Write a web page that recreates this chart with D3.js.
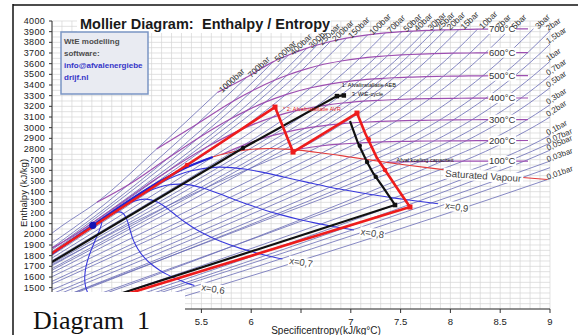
<!DOCTYPE html>
<html>
<head>
<meta charset="utf-8">
<script src="https://cdn.jsdelivr.net/npm/d3@7"></script>
<style>
  body { margin: 0; background: #fff; }
  svg { display: block; font-family: "Liberation Sans", Arial, sans-serif; }
</style>
</head>
<body>
<svg id="chart" width="578" height="335"></svg>
<script>
// ---- steam data (s in kJ/kgK, h in kJ/kg) ----

// isobars drawn, bar
var pressures = [1000, 700, 500, 400, 300, 250, 200, 150, 100, 70, 50, 40, 30, 25, 20, 15, 10, 7, 5, 3, 2, 1.5, 1, 0.7, 0.5, 0.3, 0.2, 0.1, 0.07, 0.05, 0.03, 0.02, 0.01];
var unlabeled = [0.02];

// saturation: [p, s liquid, h liquid, s vapour, h vapour]
var saturation = [
  [200, 4.015, 1826, 4.928, 2410], [150, 3.685, 1611, 5.311, 2610], [100, 3.360, 1408, 5.614, 2725],
  [70, 3.122, 1267, 5.813, 2772], [50, 2.921, 1155, 5.973, 2794], [40, 2.797, 1087, 6.070, 2801],
  [30, 2.646, 1008, 6.186, 2804], [25, 2.554, 962, 6.256, 2803], [20, 2.447, 909, 6.340, 2799],
  [15, 2.315, 845, 6.444, 2792], [10, 2.138, 763, 6.585, 2778], [7, 1.992, 697, 6.708, 2763],
  [5, 1.860, 640, 6.822, 2749], [3, 1.672, 562, 6.992, 2725], [2, 1.530, 505, 7.127, 2707],
  [1.5, 1.434, 467, 7.223, 2693], [1, 1.303, 418, 7.359, 2675], [0.7, 1.192, 377, 7.479, 2660],
  [0.5, 1.091, 341, 7.593, 2646], [0.3, 0.944, 289, 7.767, 2625], [0.2, 0.832, 251, 7.907, 2609],
  [0.1, 0.649, 192, 8.149, 2584], [0.07, 0.559, 163, 8.274, 2572], [0.05, 0.476, 138, 8.394, 2561],
  [0.03, 0.354, 101, 8.576, 2545], [0.02, 0.261, 73, 8.723, 2533], [0.01, 0.106, 29, 8.975, 2514]
];
var critical = [4.41, 2084];

// superheated / supercritical points per temperature: [p, s, h]
var t100 = [[0.7, 7.53, 2680], [0.5, 7.695, 2682], [0.3, 7.917, 2685], [0.2, 8.126, 2686], [0.1, 8.448, 2687],
  [0.07, 8.588, 2687], [0.05, 8.744, 2687], [0.03, 9.004, 2688], [0.02, 9.19, 2688], [0.01, 9.51, 2688]];
var t200 = [[15, 6.455, 2796], [10, 6.694, 2828], [7, 6.886, 2845], [5, 7.061, 2855], [3, 7.312, 2866],
  [2, 7.507, 2871], [1.5, 7.645, 2873], [1, 7.834, 2875], [0.7, 8.0, 2876], [0.5, 8.158, 2877],
  [0.3, 8.39, 2879], [0.2, 8.577, 2879], [0.1, 8.904, 2880], [0.07, 9.061, 2880], [0.05, 9.217, 2880]];
var t300 = [[70, 5.930, 2839], [50, 6.208, 2925], [40, 6.362, 2961], [30, 6.539, 2994], [25, 6.646, 3009],
  [20, 6.767, 3024], [15, 6.918, 3038], [10, 7.123, 3051], [7, 7.299, 3059], [5, 7.460, 3064],
  [3, 7.703, 3069], [2, 7.894, 3072], [1.5, 8.030, 3073], [1, 8.216, 3074], [0.7, 8.38, 3075],
  [0.5, 8.54, 3075], [0.3, 8.772, 3076], [0.2, 8.959, 3076], [0.1, 9.28, 3076]];
var t350 = [[250, 3.70, 1625], [150, 5.442, 2692], [100, 5.944, 2924]];
var t375 = [[400, 3.829, 1743], [300, 3.931, 1792], [250, 4.032, 1848]];
var t400 = [[1000, 3.80, 1870], [700, 3.89, 1850], [500, 4.003, 1875], [400, 4.114, 1931], [300, 4.473, 2151],
  [250, 5.142, 2580], [200, 5.554, 2818], [150, 5.881, 2975], [100, 6.212, 3097], [70, 6.450, 3159],
  [50, 6.647, 3196], [40, 6.769, 3214], [30, 6.921, 3231], [25, 7.015, 3240], [20, 7.127, 3248],
  [15, 7.269, 3256], [10, 7.465, 3264], [7, 7.635, 3269], [5, 7.794, 3272], [3, 8.033, 3275],
  [2, 8.222, 3277], [1.5, 8.357, 3277], [1, 8.544, 3278], [0.7, 8.71, 3278], [0.5, 8.864, 3278],
  [0.3, 9.10, 3279], [0.2, 9.287, 3279]];
var t425 = [[400, 4.503, 2198], [300, 5.150, 2614], [250, 5.472, 2806]];
var t450 = [[1000, 4.10, 2080], [700, 4.32, 2130], [500, 4.59, 2284], [400, 4.946, 2513], [300, 5.442, 2821],
  [250, 5.674, 2950], [200, 5.904, 3061], [150, 6.142, 3157]];
var t500 = [[1000, 4.45, 2300], [700, 4.76, 2460], [500, 5.173, 2720], [400, 5.470, 2903], [300, 5.790, 3081],
  [250, 5.959, 3162], [200, 6.141, 3239], [150, 6.348, 3310], [100, 6.597, 3374], [70, 6.800, 3411],
  [50, 6.976, 3434], [40, 7.091, 3446], [30, 7.234, 3457], [25, 7.323, 3462], [20, 7.432, 3468],
  [15, 7.570, 3473], [10, 7.762, 3479], [7, 7.930, 3482], [5, 8.088, 3484], [3, 8.325, 3486],
  [2, 8.513, 3487], [1.5, 8.647, 3487], [1, 8.834, 3488], [0.7, 8.999, 3488], [0.5, 9.154, 3488]];
var t600 = [[1000, 5.05, 2800], [700, 5.45, 3030], [500, 5.818, 3248], [400, 6.011, 3346], [300, 6.233, 3444],
  [250, 6.360, 3491], [200, 6.505, 3537], [150, 6.679, 3583], [100, 6.903, 3625], [70, 7.090, 3650],
  [50, 7.259, 3666], [40, 7.369, 3674], [30, 7.509, 3682], [25, 7.595, 3686], [20, 7.702, 3690],
  [15, 7.839, 3694], [10, 8.029, 3698], [7, 8.197, 3700], [5, 8.353, 3702], [3, 8.589, 3703],
  [2, 8.777, 3704], [1.5, 8.911, 3704], [1, 9.098, 3705], [0.7, 9.263, 3705]];
var t700 = [[1000, 5.66, 3330], [700, 5.95, 3470], [500, 6.219, 3617], [400, 6.375, 3681], [300, 6.561, 3746],
  [250, 6.662, 3775], [200, 6.796, 3808], [150, 6.957, 3839], [100, 7.170, 3870], [70, 7.347, 3888],
  [50, 7.512, 3900], [40, 7.620, 3906], [30, 7.757, 3912], [25, 7.843, 3915], [20, 7.949, 3917],
  [15, 8.085, 3920], [10, 8.273, 3924], [7, 8.442, 3925], [5, 8.598, 3926], [3, 8.834, 3927],
  [2, 9.02, 3927], [1.5, 9.154, 3927]];
var tempColumns = [t100, t200, t300, t350, t375, t400, t425, t450, t500, t600, t700];

// isotherms with labels
var isoTemps = [100, 200, 300, 400, 500, 600, 700];
var isoColumns = [t100, t200, t300, t400, t500, t600, t700];
var isoSatStart = [[7.359, 2675], [6.431, 2793], [5.705, 2749], null, null, null, null];

// lines of constant steam quality x
var q50 = [[4.41, 2084], [4.472, 2118], [4.498, 2110], [4.487, 2066], [4.447, 1974], [4.394, 1854], [4.362, 1770],
  [4.341, 1695], [4.329, 1606], [4.331, 1546], [4.342, 1493], [4.370, 1430], [4.399, 1388], [4.435, 1349], [4.513, 1290]];
var q60 = [[4.41, 2084], [4.563, 2176], [4.661, 2210], [4.712, 2198], [4.752, 2138], [4.783, 2043], [4.806, 1972],
  [4.837, 1905], [4.888, 1826], [4.937, 1772], [4.992, 1724], [5.077, 1666], [5.149, 1627], [5.227, 1592], [5.338, 1549], [5.43, 1520]];
var q70 = [[4.41, 2084], [4.654, 2235], [4.823, 2310], [4.938, 2330], [5.057, 2302], [5.172, 2232], [5.251, 2173],
  [5.333, 2116], [5.448, 2046], [5.542, 1998], [5.642, 1954], [5.785, 1902], [5.899, 1866], [6.019, 1834], [6.184, 1795], [6.314, 1769]];
var q80 = [[4.41, 2084], [4.745, 2293], [4.986, 2410], [5.163, 2462], [5.363, 2466], [5.561, 2421], [5.696, 2375],
  [5.830, 2327], [6.008, 2267], [6.148, 2224], [6.293, 2185], [6.492, 2137], [6.649, 2105], [6.810, 2076], [7.031, 2041]];
var q90 = [[4.41, 2084], [4.837, 2352], [5.148, 2510], [5.389, 2593], [5.668, 2630], [5.951, 2610], [6.140, 2576],
  [6.326, 2538], [6.567, 2487], [6.753, 2449], [6.943, 2415], [7.200, 2373], [7.399, 2345], [7.602, 2319], [7.877, 2287]];
var qualityLines = [q50, q60, q70, q80, q90];
var qualityNames = [null, "x=0,6", "x=0,7", "x=0,8", "x=0,9"];

// saturation boundary near the critical point
var satBoundary = [[3.685, 1611], [4.015, 1826], [4.41, 2084], [4.928, 2410], [5.311, 2610], [5.614, 2725]];

// the two plant cycles
var redCycle = [[3.7, 1640], [5.355, 2650], [6.239, 3193], [6.42, 2771], [7.062, 3137], [7.143, 2950],
  [7.263, 2715], [7.343, 2603], [7.464, 2434], [7.594, 2256], [4.26, 1300]];
var redSquares = [[6.239, 3193], [6.42, 2771], [7.062, 3137], [7.594, 2256]];
var redDots = [[5.355, 2650], [7.18, 2890], [7.343, 2603]];
var blackHeat = [[3.7, 1573], [5.918, 2809], [6.861, 3296], [6.93, 3302]];
var blackExpand = [[6.992, 3062], [7.072, 2856], [7.163, 2678], [7.223, 2575], [7.323, 2443], [7.444, 2275], [4.21, 1300]];
var blackSquares = [[6.861, 3296], [6.93, 3302], [7.444, 2275]];
var blackDots = [[5.918, 2809], [7.09, 2830], [7.163, 2678], [7.25, 2540]];

var notes = [
  ["1: Afvalinstallatie AEB", 6.91, 3385, "#111"],
  ["3: WtE-cycle", 7.01, 3300, "#111"],
  ["* 2: Afvalinstallatie AVR", 6.32, 3160, "#e01b1b"],
  ["Afval koeling capaciteit", 7.46, 2680, "#111"]
];

var xTicks = [4, 4.5, 5, 5.5, 6, 6.5, 7, 7.5, 8, 8.5, 9];
var xTickLabels = [5.5, 6, 7, 7.5, 8, 8.5, 9];
var yTicks = d3.range(1300, 4001, 100);
var yTickLabels = d3.range(1500, 4001, 100);

// ---- layout ----
var W = 578, H = 335;
var plot = { left: 52, right: 550, top: 21, bottom: 309 };
var x = d3.scaleLinear().domain([4, 9]).range([plot.left, plot.right]);
var y = d3.scaleLinear().domain([1300, 4000]).range([plot.bottom, plot.top]);

var svg = d3.select("#chart");
var defs = svg.append("defs");
defs.append("clipPath").attr("id", "plotClip").append("rect")
  .attr("x", plot.left).attr("y", plot.top)
  .attr("width", plot.right - plot.left).attr("height", plot.bottom - plot.top);
defs.append("clipPath").attr("id", "isoClip").append("rect")
  .attr("x", plot.left).attr("y", plot.top)
  .attr("width", x(8.78) - plot.left).attr("height", plot.bottom - plot.top);

svg.append("rect").attr("width", W).attr("height", H).attr("fill", "#fff");

// grid
var grid = svg.append("g").attr("stroke", "#d6d6d6").attr("stroke-width", 0.7);
grid.selectAll("line.v").data(d3.range(40, 91).map(function(d) { return d / 10; }))
  .enter().append("line")
  .attr("x1", function(d) { return x(d); }).attr("x2", function(d) { return x(d); })
  .attr("y1", plot.top).attr("y2", plot.bottom);
grid.selectAll("line.h").data(d3.range(1300, 4001, 50))
  .enter().append("line")
  .attr("y1", function(d) { return y(d); }).attr("y2", function(d) { return y(d); })
  .attr("x1", plot.left).attr("x2", plot.right);

var lineMono = d3.line().x(function(d) { return x(d[0]); }).y(function(d) { return y(d[1]); }).curve(d3.curveMonotoneX);
var lineCR = d3.line().x(function(d) { return x(d[0]); }).y(function(d) { return y(d[1]); }).curve(d3.curveCatmullRom.alpha(0.5));
var lineLin = d3.line().x(function(d) { return x(d[0]); }).y(function(d) { return y(d[1]); });

function isobarPoints(p) {
  var pts = [];
  var sat = saturation.find(function(r) { return r[0] === p; });
  if (sat) { pts.push([sat[1], sat[2]], [sat[3], sat[4]]); }
  tempColumns.forEach(function(col) {
    var r = col.find(function(c) { return c[0] === p; });
    if (r) pts.push([r[1], r[2]]);
  });
  return pts;
}
var isobars = pressures.map(function(p) { return { p: p, pts: isobarPoints(p) }; });

var isotherms = isoTemps.map(function(t, i) {
  var pts = isoSatStart[i] ? [isoSatStart[i]] : [];
  isoColumns[i].forEach(function(r) { pts.push([r[1], r[2]]); });
  return { t: t, pts: pts };
});

var inner = svg.append("g").attr("clip-path", "url(#plotClip)");

inner.append("g").selectAll("path").data(isobars).enter().append("path")
  .attr("d", function(d) { return lineMono(d.pts); })
  .attr("fill", "none").attr("stroke", "#6a6db6").attr("stroke-width", 0.9).attr("stroke-opacity", 0.9);

inner.append("g").attr("clip-path", "url(#isoClip)")
  .selectAll("path").data(isotherms).enter().append("path")
  .attr("d", function(d) { return lineMono(d.pts); })
  .attr("fill", "none").attr("stroke", "#9d4fb1").attr("stroke-width", 1.2);

inner.append("g").selectAll("path").data(qualityLines).enter().append("path")
  .attr("d", function(d) { return lineCR(d); })
  .attr("fill", "none").attr("stroke", "#3838dc").attr("stroke-width", 1.1);

var satVapour = [critical].concat(saturation.map(function(r) { return [r[3], r[4]]; }));
inner.append("path").attr("d", lineMono(satVapour))
  .attr("fill", "none").attr("stroke", "#e23b3b").attr("stroke-width", 1.1);

inner.append("path").attr("d", lineCR(satBoundary))
  .attr("fill", "none").attr("stroke", "#2222d2").attr("stroke-width", 2.2);

inner.append("path").attr("d", lineLin(blackHeat))
  .attr("fill", "none").attr("stroke", "#111").attr("stroke-width", 2.2);
inner.append("path").attr("d", lineLin(blackExpand))
  .attr("fill", "none").attr("stroke", "#111").attr("stroke-width", 2.2);
inner.append("path").attr("d", lineLin(redCycle))
  .attr("fill", "none").attr("stroke", "#ee1c1c").attr("stroke-width", 2.6).attr("stroke-linejoin", "round");

function squares(data, color, size) {
  svg.append("g").selectAll("rect").data(data).enter().append("rect")
    .attr("x", function(d) { return x(d[0]) - size / 2; })
    .attr("y", function(d) { return y(d[1]) - size / 2; })
    .attr("width", size).attr("height", size).attr("fill", color);
}
function dots(data, color, r) {
  svg.append("g").selectAll("circle").data(data).enter().append("circle")
    .attr("cx", function(d) { return x(d[0]); }).attr("cy", function(d) { return y(d[1]); })
    .attr("r", r).attr("fill", color);
}
squares(redSquares, "#ee1c1c", 5);
dots(redDots, "#ee1c1c", 2.3);
squares(blackSquares, "#111", 4.5);
dots(blackDots, "#111", 2.2);
dots([critical], "#1414b4", 3.6);

// isotherm labels
function interpAt(pts, s) {
  for (var i = 1; i < pts.length; i++) {
    if (pts[i][0] >= s) {
      var a = pts[i - 1], b = pts[i];
      return a[1] + (b[1] - a[1]) * (s - a[0]) / (b[0] - a[0]);
    }
  }
  return pts[pts.length - 1][1];
}
var isoLab = svg.append("g").attr("font-size", 9.5).attr("fill", "#333");
isotherms.forEach(function(d) {
  var cx = x(8.52), cy = y(interpAt(d.pts, 8.52));
  isoLab.append("rect").attr("x", cx - 14).attr("y", cy - 5).attr("width", 28).attr("height", 10).attr("fill", "#fff");
  isoLab.append("text").attr("x", cx).attr("y", cy).attr("dy", "0.35em")
    .attr("text-anchor", "middle").text(d.t + "\u00b0C");
});

// saturated vapour label
(function() {
  var cx = x(8.33), cy = y(interpAt(satVapour, 8.33)) + 2;
  var g = svg.append("g").attr("transform", "translate(" + cx + "," + cy + ") rotate(4)");
  g.append("rect").attr("x", -40).attr("y", -5.5).attr("width", 80).attr("height", 11).attr("fill", "#fff");
  g.append("text").attr("text-anchor", "middle").attr("dy", "0.35em")
    .attr("font-size", 9.8).attr("fill", "#444").text("Saturated Vapour");
})();

// quality labels
qualityLines.forEach(function(q, i) {
  if (!qualityNames[i]) return;
  var end = q[q.length - 1];
  var g = svg.append("g").attr("transform", "translate(" + (x(end[0]) + 7) + "," + (y(end[1]) + 1.5) + ") rotate(9)");
  g.append("rect").attr("x", -1).attr("y", -5).attr("width", 25).attr("height", 10).attr("fill", "#fff");
  g.append("text").attr("dy", "0.35em").attr("font-size", 9.5).attr("fill", "#444").text(qualityNames[i]);
});

// isobar labels at the end of every line or where it leaves the plot
function labelAnchor(pts) {
  var px = pts.map(function(d) { return [x(d[0]), y(d[1])]; });
  for (var i = 1; i < px.length; i++) {
    var a = px[i - 1], b = px[i];
    if (b[0] > plot.right && a[0] <= plot.right) {
      var t = (plot.right - a[0]) / (b[0] - a[0]);
      return { x: plot.right, y: a[1] + t * (b[1] - a[1]), ang: Math.atan2(b[1] - a[1], b[0] - a[0]), side: true };
    }
  }
  var a2 = px[px.length - 2], b2 = px[px.length - 1];
  return { x: b2[0], y: b2[1], ang: Math.atan2(b2[1] - a2[1], b2[0] - a2[0]), side: false };
}
var barLab = svg.append("g").attr("fill", "#333");
isobars.forEach(function(d) {
  if (unlabeled.indexOf(d.p) >= 0) return;
  var an = labelAnchor(d.pts);
  var deg = an.ang * 180 / Math.PI;
  var ax = an.side ? an.x - 5 : an.x + 1.5;
  var ay = an.side ? an.y - 1 : an.y;
  barLab.append("text")
    .attr("transform", "translate(" + ax + "," + ay + ") rotate(" + (an.side ? Math.max(deg, -34) : deg) + ")")
    .attr("x", 2).attr("dy", "0.35em")
    .attr("font-size", an.side ? 8 : 8.5)
    .text(String(d.p).replace(".", ",") + "bar");
});

// notes on the cycles
svg.append("g").selectAll("text").data(notes).enter().append("text")
  .attr("x", function(d) { return x(d[1]); }).attr("y", function(d) { return y(d[2]); })
  .attr("font-size", 5.6).attr("fill", function(d) { return d[3]; })
  .text(function(d) { return d[0]; });

// axes
var axes = svg.append("g").attr("font-size", 9).attr("fill", "#222");
axes.append("line").attr("x1", plot.left).attr("x2", plot.left).attr("y1", plot.top).attr("y2", plot.bottom)
  .attr("stroke", "#333").attr("stroke-width", 1);
axes.append("line").attr("x1", plot.left).attr("x2", plot.right).attr("y1", plot.bottom).attr("y2", plot.bottom)
  .attr("stroke", "#333").attr("stroke-width", 1);
axes.selectAll("line.yt").data(yTicks).enter().append("line")
  .attr("x1", plot.left - 3).attr("x2", plot.left)
  .attr("y1", function(d) { return y(d); }).attr("y2", function(d) { return y(d); })
  .attr("stroke", "#333");
axes.selectAll("text.yl").data(yTickLabels).enter().append("text")
  .attr("x", plot.left - 7).attr("y", function(d) { return y(d); }).attr("dy", "0.35em")
  .attr("text-anchor", "end").attr("letter-spacing", 0.3).text(function(d) { return d; });
axes.selectAll("line.xt").data(xTicks).enter().append("line")
  .attr("x1", function(d) { return x(d); }).attr("x2", function(d) { return x(d); })
  .attr("y1", plot.bottom).attr("y2", plot.bottom + 4).attr("stroke", "#333");
axes.selectAll("text.xl").data(xTickLabels).enter().append("text")
  .attr("x", function(d) { return x(d); }).attr("y", 324.5).attr("font-size", 9.5)
  .attr("text-anchor", "middle").text(function(d) { return String(d); });

// axis titles
svg.append("rect").attr("x", 266).attr("y", 325.5).attr("width", 122).attr("height", 9.5).attr("fill", "#fff");
svg.append("text").attr("x", 326).attr("y", 334).attr("text-anchor", "middle")
  .attr("font-size", 10).attr("fill", "#222").text("Specificentropy(kJ/kg\u00b0C)");
svg.append("rect").attr("x", 15).attr("y", 157).attr("width", 16).attr("height", 72).attr("fill", "#fff");
svg.append("text").attr("transform", "translate(27,193) rotate(-90)").attr("text-anchor", "middle")
  .attr("font-size", 9.5).attr("fill", "#222").text("Enthalpy (kJ/kg)");

// title
svg.append("rect").attr("x", 77).attr("y", 13).attr("width", 254).attr("height", 20).attr("fill", "#fff");
svg.append("text").attr("x", 80).attr("y", 29).attr("font-size", 14.5).attr("font-weight", "bold")
  .attr("fill", "#1a1a1a").text("Mollier Diagram:");
svg.append("text").attr("x", 202).attr("y", 29).attr("font-size", 14.5).attr("font-weight", "bold")
  .attr("fill", "#1a1a1a").text("Enthalpy / Entropy");

// info box
var info = svg.append("g");
info.append("rect").attr("x", 61).attr("y", 32).attr("width", 87).attr("height", 62)
  .attr("fill", "#e9ebf2").attr("stroke", "#7a95c4").attr("stroke-width", 1.5);
var infoLines = [["WtE modelling", "#4d4d4d", 44], ["software:", "#4d4d4d", 56],
  ["info@afvalenergiebe", "#3535c8", 68], ["drijf.nl", "#3535c8", 80]];
info.selectAll("text").data(infoLines).enter().append("text")
  .attr("x", 64).attr("y", function(d) { return d[2]; })
  .attr("font-size", 8).attr("font-weight", "bold").attr("fill", function(d) { return d[1]; })
  .text(function(d) { return d[0]; });

// caption box
svg.append("rect").attr("x", 14).attr("y", 292).attr("width", 171).attr("height", 43).attr("fill", "#fff");
svg.append("text").attr("x", 33).attr("y", 329).attr("font-family", "'Liberation Serif', 'Times New Roman', serif")
  .attr("font-size", 26).attr("fill", "#111").text("Diagram");
svg.append("text").attr("x", 137).attr("y", 329).attr("font-family", "'Liberation Serif', 'Times New Roman', serif")
  .attr("font-size", 26).attr("fill", "#111").text("1");

// frame
svg.append("line").attr("x1", 13).attr("x2", W).attr("y1", 5).attr("y2", 5).attr("stroke", "#111").attr("stroke-width", 1.5);
svg.append("line").attr("x1", 13).attr("x2", 13).attr("y1", 4).attr("y2", H).attr("stroke", "#111").attr("stroke-width", 1.5);
</script>
</body>
</html>
